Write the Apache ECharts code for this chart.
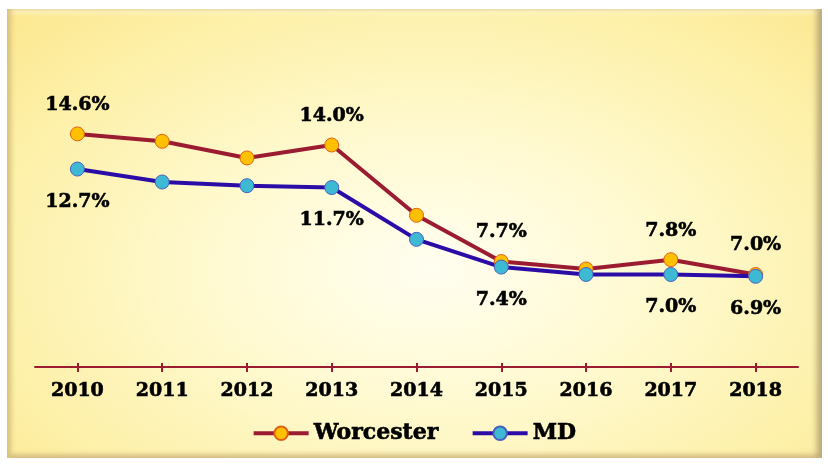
<!DOCTYPE html>
<html>
<head>
<meta charset="utf-8">
<script src="https://cdn.jsdelivr.net/npm/echarts@6/dist/echarts.min.js"></script>
<style>
  html, body { margin: 0; padding: 0; background: #ffffff; }
  #frame {
    position: absolute; left: 7px; top: 9px; width: 815px; height: 449px;
    background: radial-gradient(ellipse at 52% 58%, #fffef0 0%, #fffad2 35%, #fdf0a8 75%, #fce78e 100%);
    box-shadow: inset 6px 0 5px -2px #d9c27a, inset -7px 0 6px -2px #b9a878,
                inset 0 6px 5px -2px #fff6c8, inset 0 -6px 5px -2px #dcc68a;
  }
  #lineChart { position: absolute; left: 0; top: 0; width: 828px; height: 464px; }
</style>
</head>
<body>
<div id="frame"></div>
<div id="lineChart"></div>
<script>
var years = ['2010', '2011', '2012', '2013', '2014', '2015', '2016', '2017', '2018'];
var worcester = [14.6, 14.2, 13.3, 14.0, 10.2, 7.7, 7.3, 7.8, 7.0];
var md = [12.7, 12.0, 11.8, 11.7, 8.9, 7.4, 7.0, 7.0, 6.9];
// which points carry a value label
var worcesterLabeled = [0, 3, 5, 7, 8];
var mdLabeled = [0, 3, 5, 7, 8];

var labelFont = 'DejaVu Serif';
var axisRed = '#9b1b30';

function buildData(values, shown, pos, dist) {
    return values.map(function (v, i) {
        return {
            value: v,
            label: {
                show: shown.indexOf(i) >= 0,
                position: pos,
                distance: dist,
                formatter: function (p) { return p.value.toFixed(1) + '%'; },
                color: '#000',
                fontFamily: labelFont,
                fontWeight: 'bold',
                fontSize: 19,
                textBorderColor: '#000',
                textBorderWidth: 0.6
            }
        };
    });
}

function showLineChart() {
    // 初始化echarts实例
    var myChart = echarts.init(document.getElementById('lineChart'));

    var option = {
        backgroundColor: 'transparent',
        animation: false,
        grid: { left: 35, right: 30, top: 108, bottom: 97 },
        legend: {
            top: 417,
            left: 'center',
            itemWidth: 55,
            itemHeight: 17,
            itemGap: 32,
            lineStyle: { width: 4 },
            textStyle: {
                color: '#000',
                fontFamily: labelFont,
                fontWeight: 'bold',
                fontSize: 22,
                textBorderColor: '#000',
                textBorderWidth: 0.6
            },
            data: ['Worcester', 'MD']
        },
        xAxis: [
            {
                type: 'category',
                data: years,
                position: 'bottom',
                axisLine: { show: true, lineStyle: { color: axisRed, width: 2 } },
                axisTick: { show: true, alignWithLabel: true, length: 5, lineStyle: { color: axisRed, width: 2 } },
                axisLabel: {
                    color: '#000',
                    fontFamily: labelFont,
                    fontWeight: 'bold',
                    fontSize: 19,
                    margin: 15,
                    textBorderColor: '#000',
                    textBorderWidth: 0.6
                }
            },
            {
                // upper half of the ticks, they cross the axis line
                type: 'category',
                data: years,
                position: 'bottom',
                axisLine: { show: false },
                axisTick: { show: true, inside: true, alignWithLabel: true, length: 4, lineStyle: { color: axisRed, width: 2 } },
                axisLabel: { show: false }
            }
        ],
        yAxis: {
            type: 'value',
            min: 2,
            max: 16,
            show: false,
            splitLine: { show: false }
        },
        series: [
            {
                name: 'Worcester',
                type: 'line',
                symbol: 'circle',
                symbolSize: 14,
                lineStyle: { color: '#9b1b30', width: 4 },
                itemStyle: { color: '#ffc000', borderColor: '#e0601a', borderWidth: 1 },
                data: buildData(worcester, worcesterLabeled, 'top', 12)
            },
            {
                name: 'MD',
                type: 'line',
                symbol: 'circle',
                symbolSize: 14,
                lineStyle: { color: '#2b0ca6', width: 4 },
                itemStyle: { color: '#3db9d3', borderColor: '#4a5fc0', borderWidth: 1 },
                data: buildData(md, mdLabeled, 'bottom', 16)
            }
        ]
    };
    myChart.setOption(option);
    return option;
}
showLineChart();
</script>
</body>
</html>
